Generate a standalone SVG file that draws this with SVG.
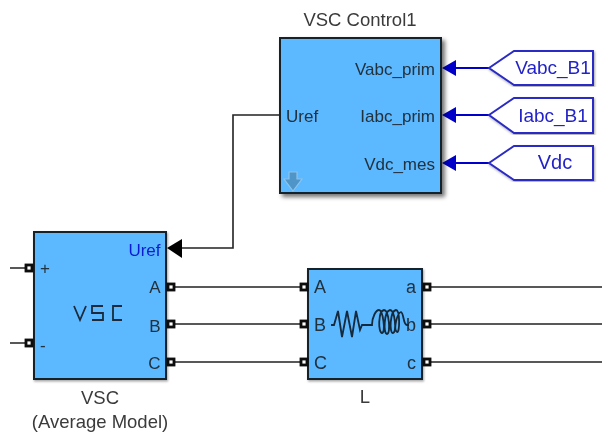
<svg xmlns="http://www.w3.org/2000/svg" width="602" height="435" viewBox="0 0 602 435">
<defs>
<filter id="sh" x="-10%" y="-10%" width="125%" height="125%"><feDropShadow dx="3" dy="3" stdDeviation="2" flood-color="#000" flood-opacity="0.55"/></filter>
<filter id="soft" x="-5%" y="-5%" width="110%" height="110%"><feGaussianBlur stdDeviation="0.45"/></filter>
<filter id="sh2" x="-10%" y="-10%" width="125%" height="125%"><feDropShadow dx="1" dy="1.5" stdDeviation="1" flood-color="#000" flood-opacity="0.35"/></filter>
</defs>
<style>
text{font-family:"Liberation Sans",Arial,sans-serif;font-size:17px;fill:#22303c}
.n{font-size:18.5px;fill:#3a3a3a}
.blk{fill:#5cb8ff;stroke:#15212c;stroke-width:2}
.w{fill:none;stroke:#222;stroke-width:1.6}
.bw{fill:none;stroke:#0000c8;stroke-width:2}
.tag{fill:#fff;stroke:#2b2bc4;stroke-width:2}
.tt{font-size:19px;fill:#2424c8;text-anchor:middle}
.r{text-anchor:end}
.p{fill:#fff;stroke:#0a0a0a;stroke-width:2.8}
</style>
<g id="connectors" filter="url(#soft)">
<path class="w" d="M286 115H233V248H182"/>
<path d="M167 248L182 239V258Z" fill="#000"/>
<path class="bw" d="M456 68H489M456 115H489M456 163H489"/>
<path d="M442 68L456 60V76Z M442 115L456 107V123Z M442 163L456 155V171Z" fill="#0000c8"/>
<path class="w" d="M10 268H26M10 343H26"/>
<path class="w" d="M174 287H301M174 324H301M174 362H301"/>
<path class="w" d="M430 287H602M430 324H602M430 362H602"/>
</g>
<g id="vsc-control" filter="url(#soft)">
<rect class="blk" x="280" y="38" width="161" height="155" filter="url(#sh)"/>
<text x="360" y="26" class="n" text-anchor="middle">VSC Control1</text>
<text x="435" y="75" class="r">Vabc_prim</text>
<text x="435" y="122" class="r">Iabc_prim</text>
<text x="435" y="170" class="r">Vdc_mes</text>
<text x="286" y="122">Uref</text>
<path d="M289 172H297V179H302L293 191L284 179H289Z" fill="#4f95c8" stroke="#8cc4ea" stroke-width="1.2"/>
</g>
<g id="tag-vabc" filter="url(#soft)">
<path class="tag" d="M489 68L514 51H593V85H514Z" filter="url(#sh2)"/>
<text x="553" y="74" class="tt">Vabc_B1</text>
</g>
<g id="tag-iabc" filter="url(#soft)">
<path class="tag" d="M489 115L514 98H593V133H514Z" filter="url(#sh2)"/>
<text x="553" y="122" class="tt">Iabc_B1</text>
</g>
<g id="tag-vdc" filter="url(#soft)">
<path class="tag" d="M489 163L514 146H593V180H514Z" filter="url(#sh2)"/>
<text x="555" y="169" class="tt" style="font-size:20px">Vdc</text>
</g>
<g id="vsc" filter="url(#soft)">
<rect class="blk" x="34" y="232" width="132" height="147" filter="url(#sh2)"/>
<text x="160.500" y="256" class="r" style="fill:#0a1fd0">Uref</text>
<text x="40" y="274">+</text>
<text x="40" y="351">-</text>
<text x="160.500" y="293" class="r">A</text>
<text x="160.500" y="332" class="r">B</text>
<text x="160.500" y="369" class="r">C</text>
<path d="M74 306L80 320L86 306M103 306H92V313H103V320H92M122 306H113V320H122" fill="none" stroke="#1a2a3a" stroke-width="1.8"/>
<rect class="p" x="26" y="265" width="6" height="6"/>
<rect class="p" x="26" y="340" width="6" height="6"/>
<rect class="p" x="168" y="284" width="6" height="6"/>
<rect class="p" x="168" y="321" width="6" height="6"/>
<rect class="p" x="168" y="359" width="6" height="6"/>
<text x="100" y="404" class="n" text-anchor="middle">VSC</text>
<text x="100" y="428" class="n" text-anchor="middle">(Average Model)</text>
</g>
<g id="L" filter="url(#soft)">
<rect class="blk" x="308" y="269" width="114" height="110" filter="url(#sh2)"/>
<text x="314" y="293" style="font-size:18px">A</text>
<text x="314" y="331" style="font-size:18px">B</text>
<text x="314" y="369" style="font-size:18px">C</text>
<text x="416" y="293" class="r" style="font-size:18px">a</text>
<text x="416" y="331" class="r" style="font-size:18px">b</text>
<text x="416" y="369" class="r" style="font-size:18px">c</text>
<path d="M331 325H334L338 311L342 337L347 311L352 337L356 311L360 330L362 325H372C372 317 376 310 379 310C383 310 386 333 382 333C378 333 378 311 384 310C389 310 391 334 387 334C383 334 384 311 390 310C395 310 397 333 393 333C389 333 390 311 396 310C400 310 400 333 397 332C393 330 397 313 401 312C404 313 403 325 407 325H409" fill="none" stroke="#12293c" stroke-width="1.8"/>
<rect class="p" x="301" y="284" width="6" height="6"/>
<rect class="p" x="301" y="321" width="6" height="6"/>
<rect class="p" x="301" y="359" width="6" height="6"/>
<rect class="p" x="424" y="284" width="6" height="6"/>
<rect class="p" x="424" y="321" width="6" height="6"/>
<rect class="p" x="424" y="359" width="6" height="6"/>
<text x="365" y="403" class="n" text-anchor="middle">L</text>
</g>
</svg>
